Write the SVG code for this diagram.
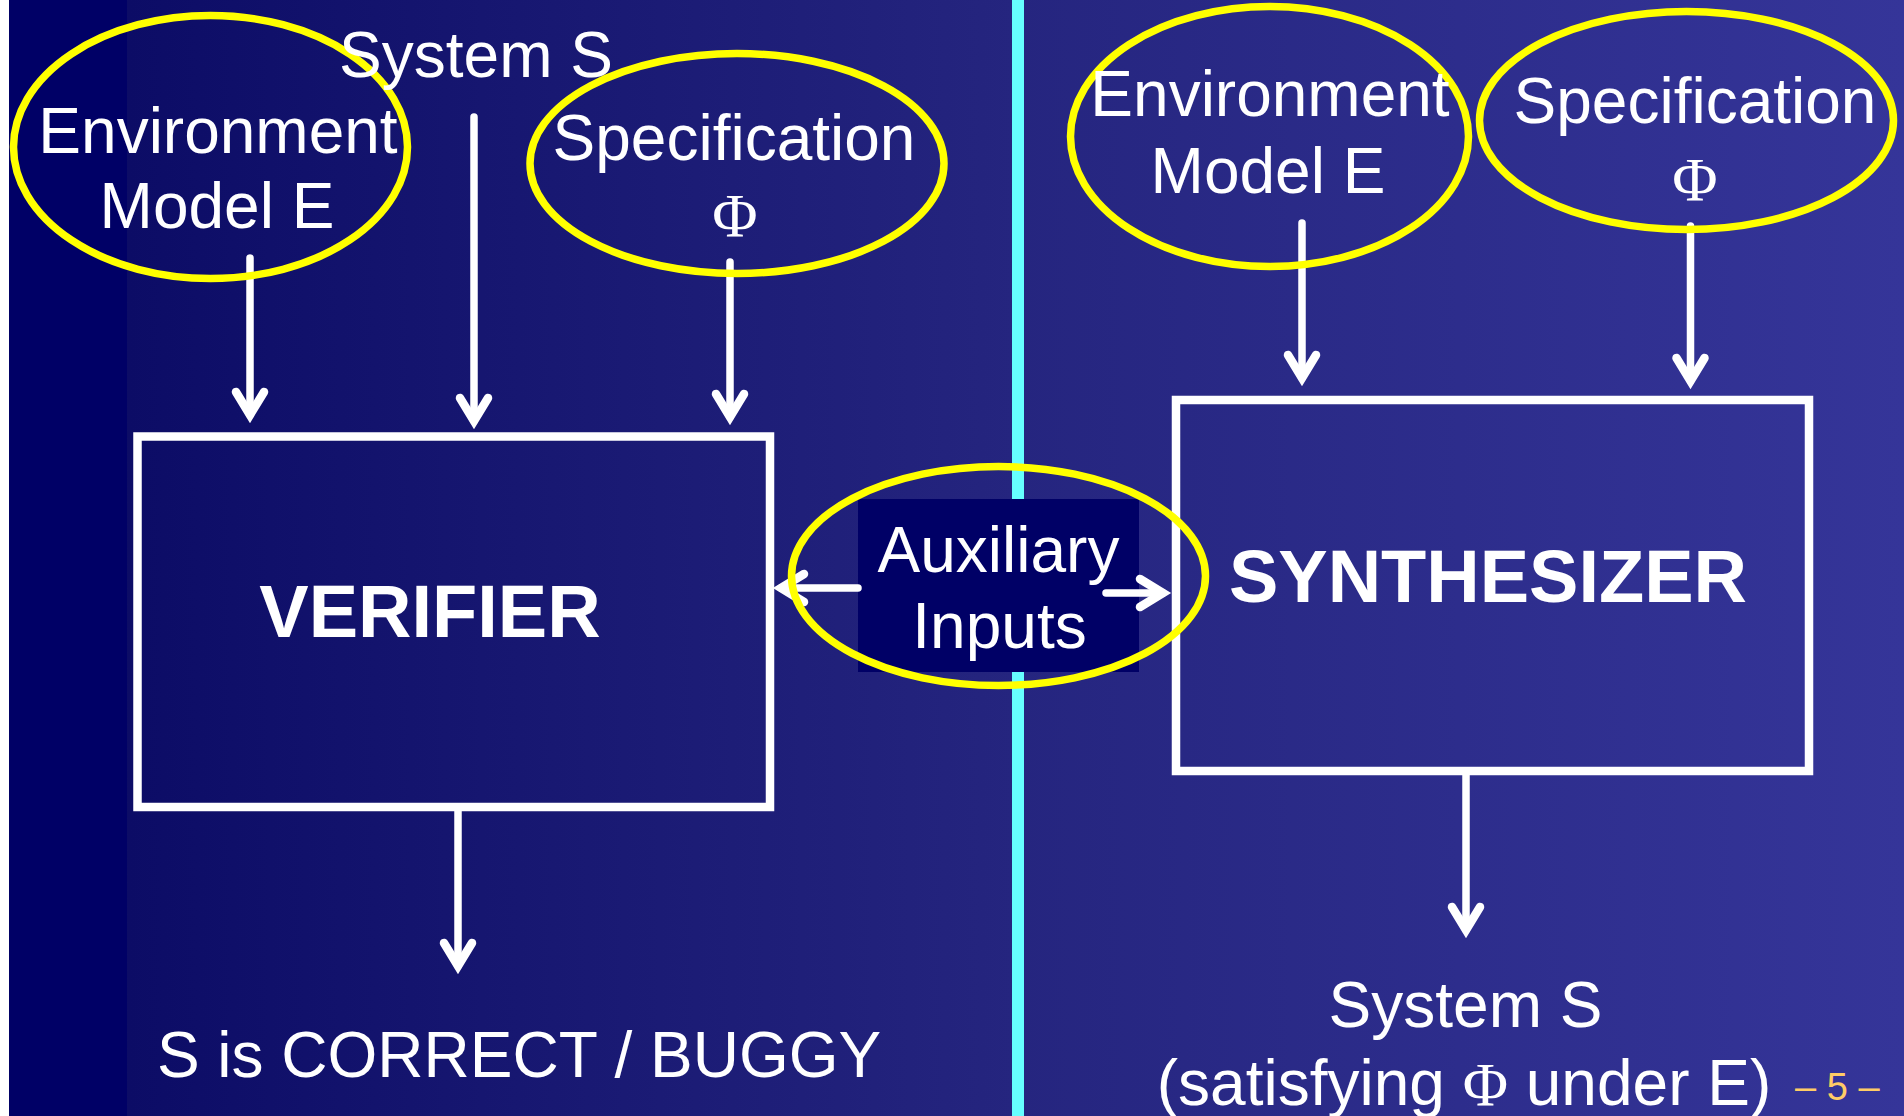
<svg xmlns="http://www.w3.org/2000/svg" width="1904" height="1116" viewBox="0 0 1904 1116">
  <defs>
    <linearGradient id="bg" gradientUnits="userSpaceOnUse" x1="127" y1="0" x2="1904" y2="0">
      <stop offset="0" stop-color="#0c0c66"/>
      <stop offset="0.5" stop-color="#25257f"/>
      <stop offset="1" stop-color="#353599"/>
    </linearGradient>
    <marker id="ah" markerUnits="userSpaceOnUse" markerWidth="60" markerHeight="60" viewBox="-30 -30 60 60" refX="0" refY="0" orient="auto" overflow="visible">
      <path d="M-23,-14 L0,0 L-23,14" fill="none" stroke="#ffffff" stroke-width="8.5" stroke-linecap="round" stroke-linejoin="miter"/>
    </marker>
    <style>
      .lbl { font-family: "Liberation Sans", Arial, sans-serif; font-size: 64px; fill: #ffffff; text-anchor: middle; }
      .big { font-family: "Liberation Sans", Arial, sans-serif; font-size: 74px; font-weight: bold; fill: #ffffff; text-anchor: middle; }
      .phi { font-family: "Liberation Serif", "Times New Roman", serif; font-size: 62px; }
      .oval { fill: none; stroke: #ffff00; stroke-width: 7.5; }
      .box { fill: none; stroke: #ffffff; stroke-width: 8.5; }
      .wire { fill: none; stroke: #ffffff; stroke-width: 7.5; stroke-linecap: round; marker-end: url(#ah); }
      .pg { font-family: "Liberation Sans", Arial, sans-serif; font-size: 38px; fill: #ffcc66; }
    </style>
  </defs>

  <!-- slide background -->
  <rect x="0" y="0" width="1904" height="1116" fill="url(#bg)"/>
  <rect x="9" y="0" width="118" height="1116" fill="#000066"/>
  <rect x="0" y="0" width="9" height="1116" fill="#ffffff"/>

  <!-- divider between verification and synthesis -->
  <rect x="1012" y="0" width="12" height="1116" fill="#66ffff"/>

  <!-- verifier -->
  <g id="verifier">
    <rect class="box" x="137.5" y="436.5" width="632.5" height="370.5"/>
    <text class="big" x="430" y="637">VERIFIER</text>
  </g>

  <!-- synthesizer -->
  <g id="synthesizer">
    <rect class="box" x="1176" y="400" width="633" height="371"/>
    <text class="big" x="1488" y="602">SYNTHESIZER</text>
  </g>

  <!-- auxiliary inputs backing panel -->
  <g id="aux-inputs-panel">
    <rect x="858" y="499" width="281" height="173" fill="#000066"/>
  </g>

  <!-- connectors -->
  <g id="connectors">
    <path class="wire" d="M250,258 V415"/>
    <path class="wire" d="M474,117 V421"/>
    <path class="wire" d="M730,262 V417"/>
    <path class="wire" d="M458,811 V966"/>
    <path class="wire" d="M1302,223 V378"/>
    <path class="wire" d="M1690.5,226 V381"/>
    <path class="wire" d="M1466,775 V930"/>
    <path class="wire" d="M858,588 H781"/>
    <path class="wire" d="M1106,593 H1163"/>
  </g>

  <!-- left column inputs -->
  <g id="env-model-left">
    <ellipse class="oval" cx="210.5" cy="147" rx="197" ry="131.5"/>
    <text class="lbl" x="218" y="153">Environment</text>
    <text class="lbl" x="217" y="228">Model E</text>
  </g>

  <g id="system-s-input">
    <text class="lbl" x="476" y="77">System S</text>
  </g>

  <g id="spec-left">
    <ellipse class="oval" cx="737" cy="163.5" rx="207" ry="110"/>
    <text class="lbl" x="734" y="160">Specification</text>
    <text class="lbl phi" x="735" y="236">Φ</text>
  </g>

  <!-- auxiliary inputs -->
  <g id="aux-inputs">
    <ellipse class="oval" cx="998.5" cy="576" rx="207" ry="109.5"/>
    <text class="lbl" x="998.5" y="572">Auxiliary</text>
    <text class="lbl" x="999.5" y="648">Inputs</text>
  </g>

  <!-- right column inputs -->
  <g id="env-model-right">
    <ellipse class="oval" cx="1269.5" cy="136.5" rx="199" ry="130"/>
    <text class="lbl" x="1270" y="116">Environment</text>
    <text class="lbl" x="1268" y="193">Model E</text>
  </g>

  <g id="spec-right">
    <ellipse class="oval" cx="1686.5" cy="120.5" rx="207" ry="109"/>
    <text class="lbl" x="1695" y="123">Specification</text>
    <text class="lbl phi" x="1695" y="200">Φ</text>
  </g>

  <!-- outputs -->
  <g id="verdict">
    <text class="lbl" x="519" y="1077">S is CORRECT / BUGGY</text>
  </g>

  <g id="synthesized-system">
    <text class="lbl" x="1465.5" y="1027">System S</text>
    <text class="lbl" x="1464" y="1105">(satisfying <tspan class="phi">Φ</tspan> under E)</text>
  </g>

  <!-- page number -->
  <text class="pg" x="1795" y="1100">– 5 –</text>
</svg>
